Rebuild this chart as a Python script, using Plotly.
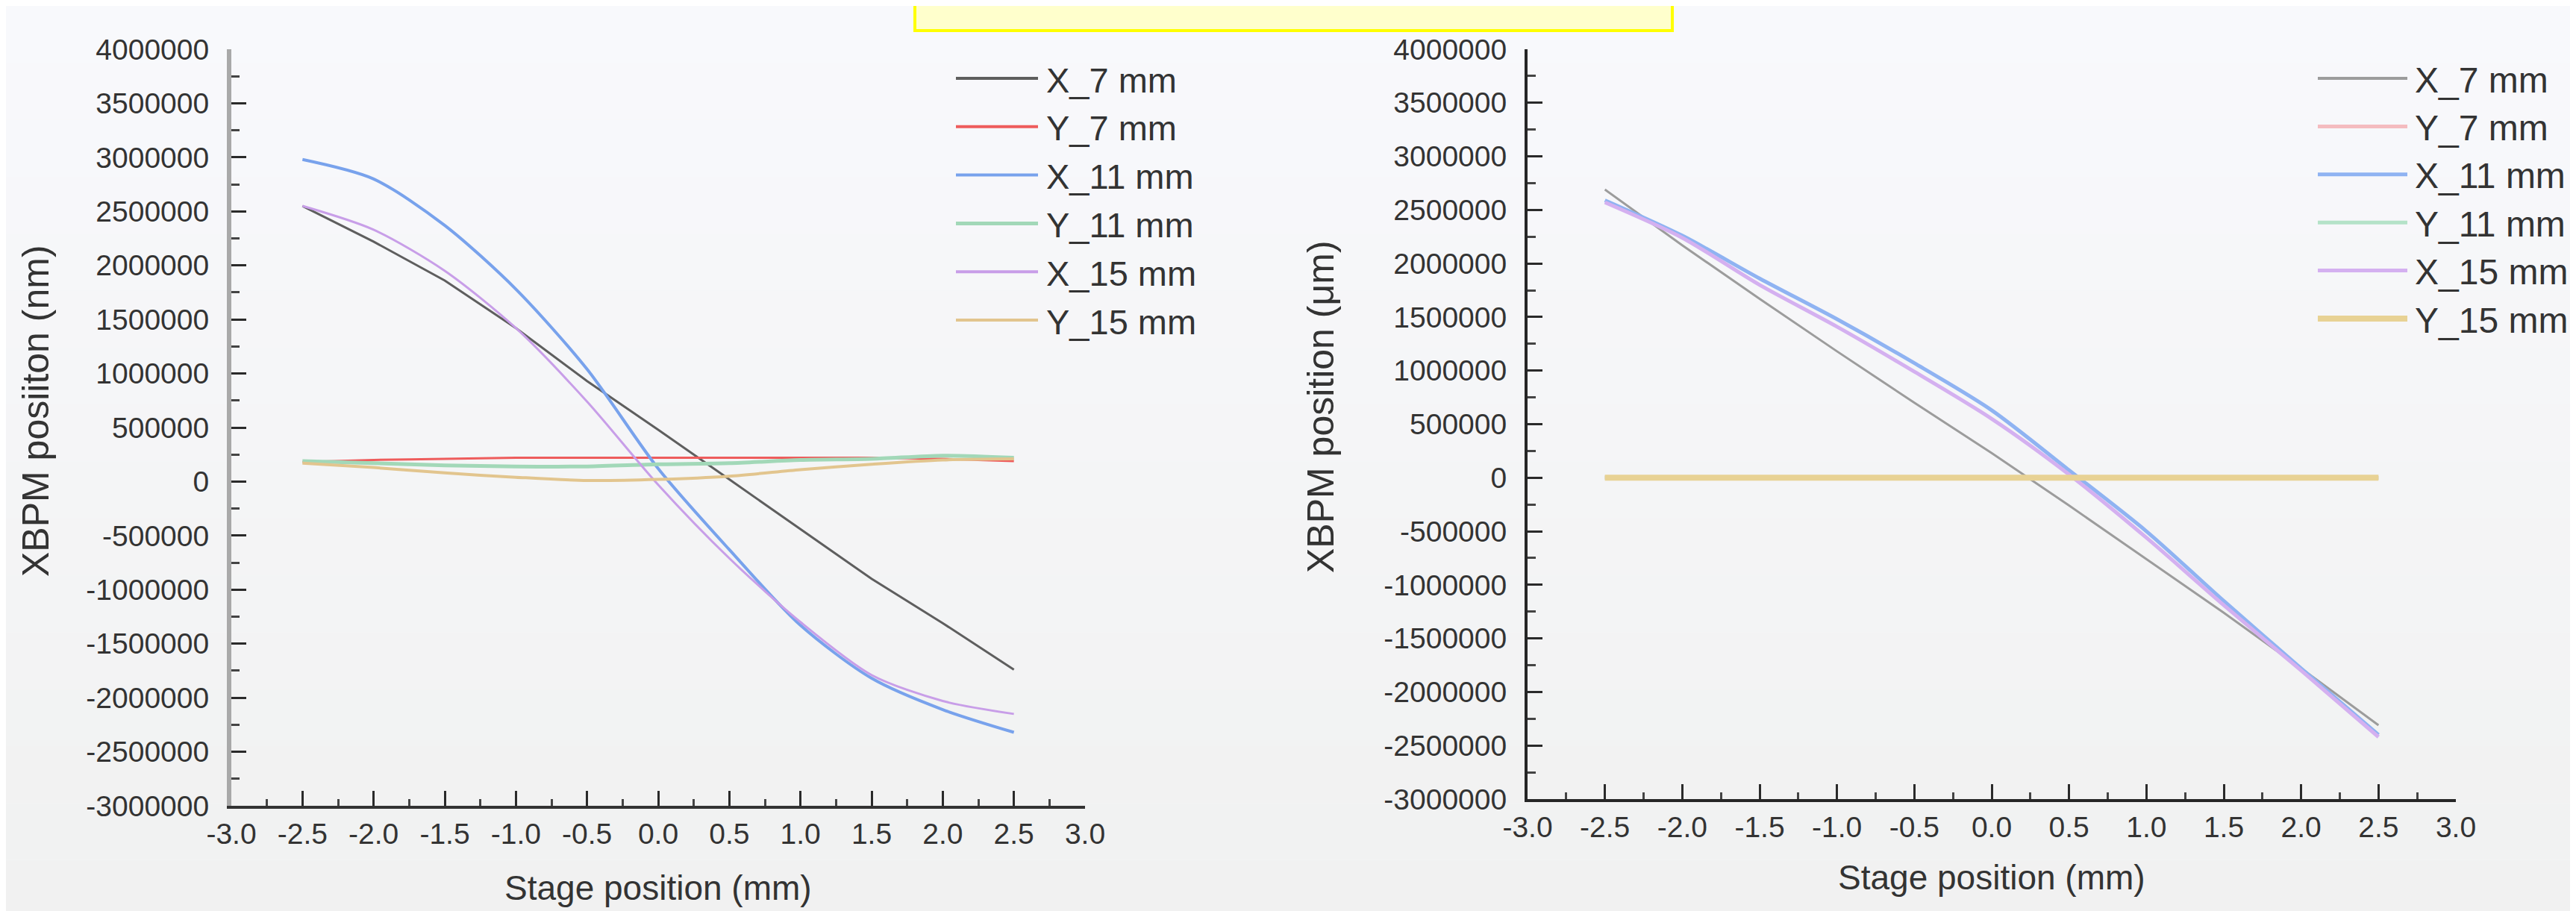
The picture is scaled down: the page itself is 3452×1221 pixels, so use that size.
import plotly.graph_objects as go

# ---------------- data ----------------
STAGE_X = [-2.5, -2.0, -1.5, -1.0, -0.5, 0.0, 0.5, 1.0, 1.5, 2.0, 2.5]

SERIES_NAMES = ["X_7 mm", "Y_7 mm", "X_11 mm", "Y_11 mm", "X_15 mm", "Y_15 mm"]

# left panel (nm)
L_X7 = [2550000, 2220000, 1860000, 1420000, 930000, 480000, 20000, -440000, -900000, -1310000, -1740000]
L_Y7 = [180000, 200000, 210000, 220000, 220000, 220000, 220000, 220000, 220000, 210000, 190000]
L_X11 = [2980000, 2800000, 2370000, 1780000, 1040000, 120000, -630000, -1330000, -1820000, -2110000, -2320000]
L_Y11 = [190000, 170000, 150000, 140000, 140000, 160000, 170000, 200000, 210000, 240000, 220000]
L_X15 = [2550000, 2330000, 1950000, 1420000, 740000, -30000, -710000, -1300000, -1790000, -2030000, -2150000]
L_Y15 = [170000, 130000, 80000, 40000, 10000, 20000, 50000, 110000, 160000, 200000, 210000]

# right panel (um)
R_X7 = [2690000, 2170000, 1670000, 1180000, 700000, 230000, -260000, -760000, -1260000, -1780000, -2310000]
R_Y7 = [2000, 2000, 1000, 1000, 1000, 0, 0, 0, -1000, -1000, -1000]
R_X11 = [2590000, 2260000, 1860000, 1480000, 1070000, 630000, 70000, -500000, -1150000, -1780000, -2400000]
R_Y11 = [1000, 1000, 1000, 0, 0, 0, 0, 0, 0, -1000, -1000]
R_X15 = [2570000, 2240000, 1800000, 1410000, 990000, 550000, 30000, -560000, -1190000, -1800000, -2420000]
R_Y15 = [0, 0, 0, 0, 0, 0, 0, 0, 0, 0, 0]

X_TICKS = [-3.0, -2.5, -2.0, -1.5, -1.0, -0.5, 0.0, 0.5, 1.0, 1.5, 2.0, 2.5, 3.0]
X_TICK_TEXT = ["-3.0", "-2.5", "-2.0", "-1.5", "-1.0", "-0.5", "0.0", "0.5", "1.0", "1.5", "2.0", "2.5", "3.0"]
Y_TICKS = [-3000000, -2500000, -2000000, -1500000, -1000000, -500000, 0,
           500000, 1000000, 1500000, 2000000, 2500000, 3000000, 3500000, 4000000]
Y_TICK_TEXT = ["-3000000", "-2500000", "-2000000", "-1500000", "-1000000", "-500000", "0",
               "500000", "1000000", "1500000", "2000000", "2500000", "3000000", "3500000", "4000000"]

X_TITLE = "Stage position (mm)"
Y_TITLE_L = "XBPM posiiton (nm)"
Y_TITLE_R = "XBPM position (μm)"

# ---------------- styles ----------------
W, H = 3452, 1221
FONT = "Liberation Sans, Arial, Helvetica, sans-serif"
TXT = "#333333"

L_COLORS = ["#5e5e5e", "#ee5c5c", "#78a2ec", "#a2d8b8", "#c89ee8", "#e2c58e"]
L_WIDTHS = [3, 3, 4, 5, 3, 4]
L_SHAPES = ["linear", "spline", "spline", "spline", "spline", "spline"]
R_COLORS = ["#9c9c9c", "#f4bcc0", "#8fb3f2", "#b4e2c8", "#d4b0f0", "#e8d294"]
R_WIDTHS = [3, 5, 5, 5, 5, 8]
R_SHAPES = ["linear", "linear", "spline", "linear", "spline", "linear"]

fig = go.Figure()

left_series = [L_X7, L_Y7, L_X11, L_Y11, L_X15, L_Y15]
right_series = [R_X7, R_Y7, R_X11, R_Y11, R_X15, R_Y15]

for name, vals, col, wd, sh in zip(SERIES_NAMES, left_series, L_COLORS, L_WIDTHS, L_SHAPES):
    fig.add_trace(go.Scatter(x=STAGE_X, y=vals, mode="lines", name=name,
                             line=dict(color=col, width=wd, shape=sh, smoothing=0.8),
                             xaxis="x", yaxis="y", showlegend=False))
for name, vals, col, wd, sh in zip(SERIES_NAMES, right_series, R_COLORS, R_WIDTHS, R_SHAPES):
    fig.add_trace(go.Scatter(x=STAGE_X, y=vals, mode="lines", name=name,
                             line=dict(color=col, width=wd, shape=sh, smoothing=0.8),
                             xaxis="x2", yaxis="y2", showlegend=False))


def px_x(p):
    return p / W


def px_y(p):
    return 1 - p / H


def xaxis_style(dom, anchor, linecolor):
    return dict(domain=dom, anchor=anchor, range=[-3, 3], tickmode="array",
                tickvals=X_TICKS, ticktext=X_TICK_TEXT, ticks="inside", ticklen=20,
                tickwidth=3, tickcolor="#2a2a2a", showline=True, linecolor=linecolor,
                linewidth=4, showgrid=False, zeroline=False, automargin=False,
                ticklabelstandoff=0,
                tickfont=dict(family=FONT, size=39, color=TXT),
                minor=dict(ticks="inside", ticklen=9, tickwidth=3, tickcolor="#444",
                           dtick=0.25, showgrid=False))


def yaxis_style(dom, anchor, linecolor, lw):
    return dict(domain=dom, anchor=anchor, range=[-3000000, 4000000], tickmode="array",
                tickvals=Y_TICKS, ticktext=Y_TICK_TEXT, ticks="inside", ticklen=20,
                tickwidth=3, tickcolor="#2a2a2a", showline=True, linecolor=linecolor,
                linewidth=lw, showgrid=False, zeroline=False, automargin=False,
                ticklabelstandoff=16,
                tickfont=dict(family=FONT, size=39, color=TXT),
                minor=dict(ticks="inside", ticklen=11, tickwidth=3, tickcolor="#444",
                           dtick=250000, showgrid=False))


L_XDOM = [px_x(302), px_x(1446)]
L_YDOM = [px_y(1072), px_y(58)]
R_XDOM = [px_x(2039), px_x(3283)]
R_YDOM = [px_y(1063), px_y(58)]

shapes = []
# soft vertical background gradient
top_c = (248, 249, 252)
bot_c = (241, 241, 241)
n = 16
for i in range(n):
    t = i / (n - 1)
    c = tuple(round(top_c[k] + (bot_c[k] - top_c[k]) * t) for k in range(3))
    shapes.append(dict(type="rect", xref="paper", yref="paper", x0=0, x1=1,
                       y0=1 - (i + 1) / n, y1=1 - i / n, line=dict(width=0),
                       fillcolor="rgb(%d,%d,%d)" % c, layer="below"))
# yellow box at top
shapes.append(dict(type="rect", xref="paper", yref="paper",
                   x0=px_x(1218), x1=px_x(2233), y0=px_y(33), y1=1.01,
                   line=dict(color="#ffff00", width=4), fillcolor="#ffffcc"))

annotations = []


def add_legend(colors, widths, x0, x1, xt, y0, dy, fsize):
    for i, (nm, col, wd) in enumerate(zip(SERIES_NAMES, colors, widths)):
        yy = px_y(y0 + i * dy)
        shapes.append(dict(type="line", xref="paper", yref="paper",
                           x0=px_x(x0), x1=px_x(x1), y0=yy, y1=yy,
                           line=dict(color=col, width=max(wd, 4))))
        annotations.append(dict(text=nm, xref="paper", yref="paper", x=px_x(xt), y=px_y(y0 + i * dy + 2),
                                xanchor="left", yanchor="middle", showarrow=False,
                                font=dict(family=FONT, size=fsize, color=TXT)))


add_legend(L_COLORS, L_WIDTHS, 1273, 1383, 1392, 97, 64.8, 47)
add_legend(R_COLORS, R_WIDTHS, 3098, 3218, 3226, 97, 64.4, 48)

# axis titles
annotations += [
    dict(text=X_TITLE, xref="paper", yref="paper", x=px_x(874), y=px_y(1182),
         xanchor="center", yanchor="middle", showarrow=False,
         font=dict(family=FONT, size=46, color=TXT)),
    dict(text=X_TITLE, xref="paper", yref="paper", x=px_x(2661), y=px_y(1168),
         xanchor="center", yanchor="middle", showarrow=False,
         font=dict(family=FONT, size=46, color=TXT)),
    dict(text=Y_TITLE_L, xref="paper", yref="paper", x=px_x(40), y=px_y(543),
         xanchor="center", yanchor="middle", textangle=-90, showarrow=False,
         font=dict(family=FONT, size=50, color=TXT)),
    dict(text=Y_TITLE_R, xref="paper", yref="paper", x=px_x(1762), y=px_y(537),
         xanchor="center", yanchor="middle", textangle=-90, showarrow=False,
         font=dict(family=FONT, size=50, color=TXT)),
]

fig.update_layout(
    width=W, height=H, margin=dict(l=0, r=0, t=0, b=0, pad=0),
    paper_bgcolor="#f5f6f8", plot_bgcolor="rgba(0,0,0,0)",
    template="none", showlegend=False,
    xaxis=xaxis_style(L_XDOM, "y", "#333333"),
    yaxis=yaxis_style(L_YDOM, "x", "#a9a9a9", 6),
    xaxis2=xaxis_style(R_XDOM, "y2", "#262626"),
    yaxis2=yaxis_style(R_YDOM, "x2", "#262626", 4),
    shapes=shapes, annotations=annotations,
)

fig.write_html("out.html")
